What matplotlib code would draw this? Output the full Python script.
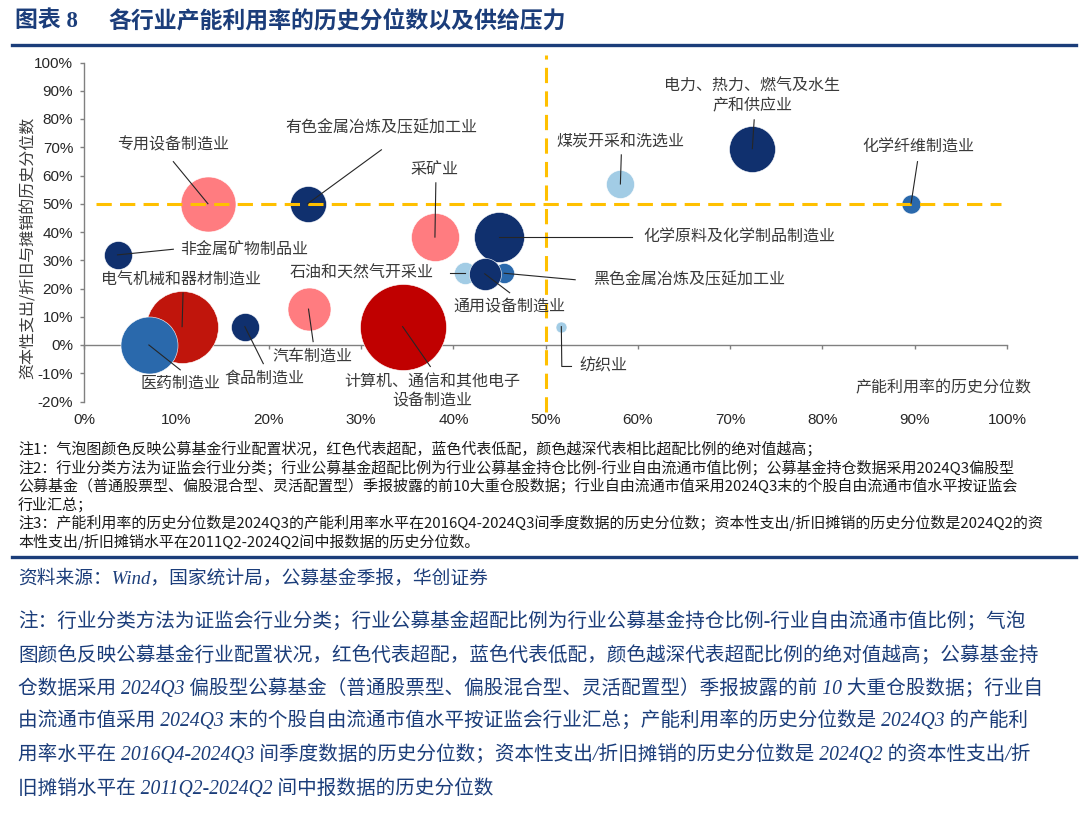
import matplotlib
matplotlib.use("Agg")
import matplotlib.pyplot as plt
from matplotlib.lines import Line2D

plt.rcParams["font.family"] = ["Noto Sans CJK SC", "DejaVu Sans"]
plt.rcParams["axes.unicode_minus"] = False

# data
industries = [
    "专用设备制造业", "有色金属冶炼及压延加工业", "采矿业", "化学原料及化学制品制造业",
    "非金属矿物制品业", "电气机械和器材制造业", "医药制造业", "食品制造业", "汽车制造业",
    "计算机、通信和其他电子设备制造业", "石油和天然气开采业", "黑色金属冶炼及压延加工业",
    "通用设备制造业", "纺织业", "煤炭开采和洗选业", "电力、热力、燃气及水生产和供应业",
    "化学纤维制造业",
]
util_pct = [0.134, 0.242, 0.380, 0.449, 0.036, 0.106, 0.070, 0.174, 0.243,
            0.345, 0.413, 0.455, 0.434, 0.517, 0.581, 0.724, 0.896]
capex_pct = [0.500, 0.500, 0.382, 0.382, 0.319, 0.065, 0.000, 0.065, 0.127,
             0.065, 0.254, 0.254, 0.252, 0.065, 0.570, 0.695, 0.500]
bubble_size = [27.5, 18, 24, 25, 14, 36, 28.5, 14, 21.5,
               43, 11, 10, 16, 5.5, 14, 23, 9.5]
# 2 = strongly overweight ... -3 = strongly underweight
alloc_level = [1, -3, 1, -3, -3, 2, -2, -3, 1, 2, -1, -2, -3, -1, -1, -3, -2]

x_ticks = [i / 10 for i in range(0, 11)]
y_ticks = [i / 10 for i in range(-2, 11)]
threshold = 0.5

alloc_colors = {
    2: "#C00000",
    1: "#FF7C80",
    -1: "#A2CCE5",
    -2: "#2A69AC",
    -3: "#10306E",
}
special_colors = {"电气机械和器材制造业": "#C0150C"}

# label layout: text position, alignment, leader waypoints (after bubble centre)
label_layout = {
    "专用设备制造业": ("专用设备制造业", 0.0961, 0.707, "center", [(0.0965, 0.649)]),
    "有色金属冶炼及压延加工业": ("有色金属冶炼及压延加工业", 0.3216, 0.769, "center", [(0.322, 0.691)]),
    "采矿业": ("采矿业", 0.380, 0.620, "center", [(0.381, 0.574)]),
    "化学原料及化学制品制造业": ("化学原料及化学制品制造业", 0.606, 0.380, "left", [(0.594, 0.382)]),
    "非金属矿物制品业": ("非金属矿物制品业", 0.104, 0.337, "left", [(0.0965, 0.339)]),
    "电气机械和器材制造业": ("电气机械和器材制造业", 0.105, 0.231, "center", [(0.107, 0.184)]),
    "医药制造业": ("医药制造业", 0.104, -0.135, "center", [(0.104, -0.088)]),
    "食品制造业": ("食品制造业", 0.195, -0.120, "center", [(0.194, -0.066)]),
    "汽车制造业": ("汽车制造业", 0.247, -0.038, "center", [(0.248, 0.012)]),
    "计算机、通信和其他电子设备制造业": ("计算机、通信和其他电子\n设备制造业", 0.377, -0.166, "center", [(0.375, -0.076)]),
    "石油和天然气开采业": ("石油和天然气开采业", 0.379, 0.254, "right", [(0.396, 0.254)]),
    "黑色金属冶炼及压延加工业": ("黑色金属冶炼及压延加工业", 0.551, 0.231, "left", [(0.532, 0.231)]),
    "通用设备制造业": ("通用设备制造业", 0.461, 0.135, "center", [(0.461, 0.185)]),
    "纺织业": ("纺织业", 0.537, -0.076, "left", [(0.5175, -0.076), (0.528, -0.076)]),
    "煤炭开采和洗选业": ("煤炭开采和洗选业", 0.581, 0.723, "center", [(0.582, 0.673)]),
    "电力、热力、燃气及水生产和供应业": ("电力、热力、燃气及水生\n产和供应业", 0.724, 0.884, "center", [(0.726, 0.797)]),
    "化学纤维制造业": ("化学纤维制造业", 0.9035, 0.701, "center", [(0.903, 0.649)]),
}

notes = [
    "注1：气泡图颜色反映公募基金行业配置状况，红色代表超配，蓝色代表低配，颜色越深代表相比超配比例的绝对值越高；",
    "注2：行业分类方法为证监会行业分类；行业公募基金超配比例为行业公募基金持仓比例-行业自由流通市值比例；公募基金持仓数据采用2024Q3偏股型",
    "公募基金（普通股票型、偏股混合型、灵活配置型）季报披露的前10大重仓股数据；行业自由流通市值采用2024Q3末的个股自由流通市值水平按证监会",
    "行业汇总；",
    "注3：产能利用率的历史分位数是2024Q3的产能利用率水平在2016Q4-2024Q3间季度数据的历史分位数；资本性支出/折旧摊销的历史分位数是2024Q2的资",
    "本性支出/折旧摊销水平在2011Q2-2024Q2间中报数据的历史分位数。",
]
source_text = "资料来源：Wind，国家统计局，公募基金季报，华创证券"
para = [
    "注：行业分类方法为证监会行业分类；行业公募基金超配比例为行业公募基金持仓比例-行业自由流通市值比例；气泡",
    "图颜色反映公募基金行业配置状况，红色代表超配，蓝色代表低配，颜色越深代表超配比例的绝对值越高；公募基金持",
    "仓数据采用 2024Q3 偏股型公募基金（普通股票型、偏股混合型、灵活配置型）季报披露的前 10 大重仓股数据；行业自",
    "由流通市值采用 2024Q3 末的个股自由流通市值水平按证监会行业汇总；产能利用率的历史分位数是 2024Q3 的产能利",
    "用率水平在 2016Q4-2024Q3 间季度数据的历史分位数；资本性支出/折旧摊销的历史分位数是 2024Q2 的资本性支出/折",
    "旧摊销水平在 2011Q2-2024Q2 间中报数据的历史分位数",
]

W, H = 1080, 817
NAVY = "#1B3D7A"
TEXT = "#3A3A3A"


def fx(px):
    return px / W


def fy(py):
    return 1 - py / H


fig = plt.figure(figsize=(W / 100, H / 100), dpi=100)
ax = fig.add_axes([fx(84.3), fy(401.5), 922.7 / W, 339.0 / H])

# bubbles
for i, name in enumerate(industries):
    color = special_colors.get(name, alloc_colors[alloc_level[i]])
    d_pt = 2 * bubble_size[i] * 0.72
    ax.scatter(util_pct[i], capex_pct[i], s=d_pt ** 2, color=color,
               edgecolors="white", linewidths=0.4, zorder=3)

# reference lines at the 50% percentile
dash = (0, (5, 2.7))
ax.plot([threshold, threshold], [-0.236, 1.026], color="#FFC000", lw=2.2,
        linestyle=dash, zorder=5, clip_on=False)
ax.plot([0.013, 0.994], [threshold, threshold], color="#FFC000", lw=2.2,
        linestyle=dash, zorder=5, clip_on=False)

# labels with leader lines
for i, name in enumerate(industries):
    text, tx, ty, ha, pts = label_layout[name]
    xs = [util_pct[i]] + [p[0] for p in pts]
    ys = [capex_pct[i]] + [p[1] for p in pts]
    ax.plot(xs, ys, color="#262626", lw=0.8, zorder=6, clip_on=False)
    ax.text(tx, ty, text, ha=ha, va="center", fontsize=11.5, color=TEXT,
            linespacing=1.15, zorder=7)

# axes styling
ax.set_xlim(0, 1)
ax.set_ylim(-0.2, 1.0)
for side in ["top", "right"]:
    ax.spines[side].set_visible(False)
ax.spines["bottom"].set_position(("data", 0))
for side in ["bottom", "left"]:
    ax.spines[side].set_color("#808080")
    ax.spines[side].set_linewidth(1.0)
ax.set_xticks(x_ticks)
ax.set_xticklabels([f"{v:.0%}" for v in x_ticks], fontfamily="Liberation Sans",
                   fontsize=11, color="#262626")
ax.set_yticks(y_ticks)
ax.set_yticklabels([f"{v:.0%}" for v in y_ticks], fontfamily="Liberation Sans",
                   fontsize=11, color="#262626")
ax.tick_params(axis="x", direction="out", length=3, width=1, color="#808080", pad=46)
ax.tick_params(axis="y", direction="out", length=3, width=1, color="#808080", pad=5)

ax.text(1.027, -0.152, "产能利用率的历史分位数", ha="right", va="center",
        fontsize=11.5, color=TEXT)
ax.text(-0.061, 0.453, "资本性支出/折旧与摊销的历史分位数", transform=ax.transAxes,
        rotation=90, ha="center", va="center", fontsize=11.5, color=TEXT)

# title block
fig.text(fx(15), fy(21), "图表 8", fontsize=16.5, fontweight="bold", color=NAVY,
         va="center", ha="left", family=["Liberation Serif", "Noto Sans CJK SC"])
fig.text(fx(108), fy(21), "各行业产能利用率的历史分位数以及供给压力", fontsize=16.5,
         fontweight="bold", color=NAVY, va="center", ha="left")
fig.add_artist(Line2D([fx(12), fx(1076)], [fy(45), fy(45)], color=NAVY, lw=2.4,
                      transform=fig.transFigure))

# notes under the chart
for k, line in enumerate(notes):
    fig.text(fx(18), fy(449 + k * 18.6), line, fontsize=10.8, color="#1A1A1A",
             va="center", ha="left")
fig.add_artist(Line2D([fx(12), fx(1076)], [fy(557), fy(557)], color=NAVY, lw=2.4,
                      transform=fig.transFigure))

fig.text(fx(18), fy(578), source_text, fontsize=13.5, color=NAVY, va="center",
         ha="left", style="italic", family=["Liberation Serif", "Noto Sans CJK SC"])
for k, line in enumerate(para):
    fig.text(fx(18), fy(622 + k * 33.4), line, fontsize=14.1, color=NAVY,
             va="center", ha="left", style="italic",
             family=["Liberation Serif", "Noto Sans CJK SC"])

fig.savefig("out.png", dpi=100, facecolor="white")
